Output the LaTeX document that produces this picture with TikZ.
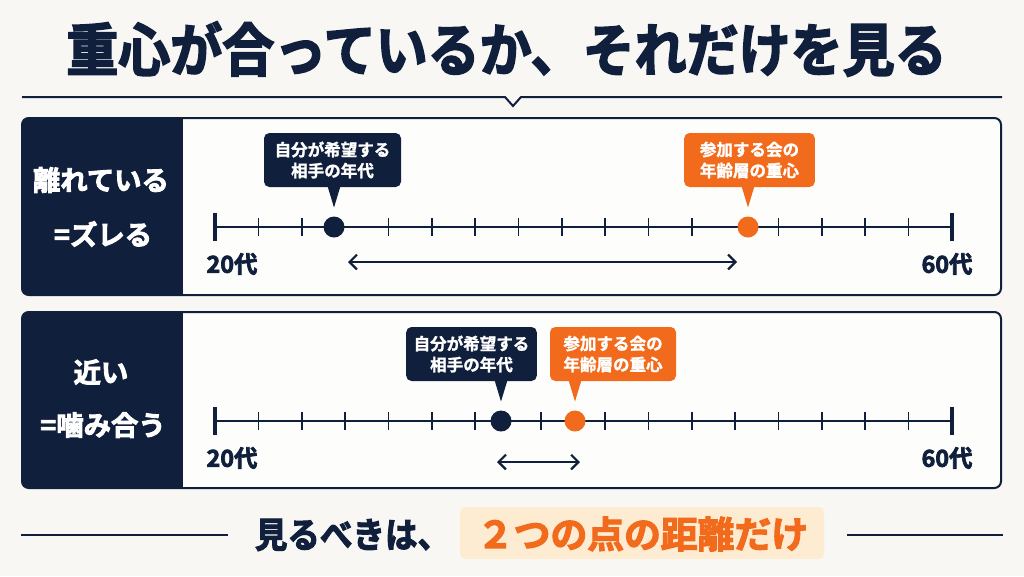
\documentclass[tikz,border=0pt]{standalone}
\usepackage{graphicx}
\usepackage{fontspec}
\setmainfont{Noto Sans CJK JP}
\newfontfamily\heavy{Noto Sans CJK JP}[UprightFont={* Bold},FakeBold=3]
\newfontfamily\semiheavy{Noto Sans CJK JP}[UprightFont={* Bold},FakeBold=1.5]
\usetikzlibrary{arrows.meta,calc}
\definecolor{navy}{HTML}{101F3C}
\definecolor{orng}{HTML}{F26A1B}
\definecolor{peach}{HTML}{FDEBD2}
\definecolor{bgc}{HTML}{F8F7F4}
\definecolor{panelbg}{HTML}{FDFDFC}
\begin{document}
\begin{tikzpicture}[x=0.75pt,y=-0.75pt,
 every node/.style={inner sep=0pt,outer sep=0pt},
 panelframe/.style={draw=navy,line width=1.5pt,rounded corners=5pt},
 sidetext/.style={text=white,font=\heavy\fontsize{20.5}{24}\selectfont},
 axisline/.style={draw=navy,line width=1.6pt},
 endtick/.style={draw=navy,line width=2.4pt},
 minortick/.style={draw=navy,line width=1.2pt},
 dotnode/.style={circle,minimum size=15.75pt},
 callbox/.style={rounded corners=4pt,minimum width=98pt,minimum height=40.5pt,align=center,text=white,font=\semiheavy\fontsize{12.4}{15.75}\selectfont},
 agelabel/.style={text=navy,font=\heavy\fontsize{17.5}{20}\selectfont},
 distarrow/.style={draw=navy,line width=1.7pt,{Straight Barb[length=5.5pt,width=11pt]}-{Straight Barb[length=5.5pt,width=11pt]}},
 ruleline/.style={draw=navy,line width=1.9pt}
]
\useasboundingbox (0,0) rectangle (1024,576);
\fill[bgc] (0,0) rectangle (1024,576);

% title
\node[text=navy,font=\heavy\fontsize{39}{44}\selectfont] (title) at (506.5,49) {\scalebox{1}[1.1]{重心が合っているか、それだけを見る}};
\draw[navy,line width=1.5pt] (22,97) -- (505,97) -- (513,106) -- (521,97) -- (1002,97);

% ---------- panel 1 ----------
\fill[panelbg,rounded corners=5pt] (22,118) rectangle (1001,295);
\begin{scope}
\clip[rounded corners=5pt] (22,118) rectangle (1001,295);
\fill[navy] (22,118) rectangle (183,295);
\end{scope}
\draw[panelframe] (22,118) rectangle (1001,295);
\node[sidetext] (s1a) at (101,180) {離れている};
\node[sidetext] (s1b) at (103,234) {=ズレる};

\draw[axisline] (215,227) -- (952,227);
\draw[endtick] (215,213) -- (215,241);
\draw[endtick] (952,213) -- (952,241);
\foreach \k in {1,2,4,5,6,7,8,9,10,11,13,14,15,16}
  \draw[minortick] ({215+43.35*\k},218) -- ({215+43.35*\k},236);
\node[dotnode,fill=navy] (d1) at (334,227) {};
\node[dotnode,fill=orng] (o1) at (748,227) {};

\node[callbox,fill=navy,minimum width=102.75pt] (c1) at (332.5,160) {自分が希望する\\相手の年代};
\fill[navy] ($(d1 |- c1.south)+(-6.5,-1)$) -- ($(d1.north)+(0,-9)$) -- ($(d1 |- c1.south)+(6.5,-1)$) -- cycle;
\node[callbox,fill=orng] (k1) at (749.5,160) {参加する会の\\年齢層の重心};
\fill[orng] ($(o1 |- k1.south)+(-6.5,-1)$) -- ($(o1.north)+(0,-9)$) -- ($(o1 |- k1.south)+(6.5,-1)$) -- cycle;

\coordinate (a1l) at (348,262);
\coordinate (a1r) at (737,262);
\draw[distarrow] (a1l) -- (a1r);
\node[agelabel] (lo1) at (232,264) {20代};
\node[agelabel] (hi1) at (947,264) {60代};

% ---------- panel 2 ----------
\fill[panelbg,rounded corners=5pt] (22,312) rectangle (1001,488);
\begin{scope}
\clip[rounded corners=5pt] (22,312) rectangle (1001,488);
\fill[navy] (22,312) rectangle (183,488);
\end{scope}
\draw[panelframe] (22,312) rectangle (1001,488);
\node[sidetext] (s2a) at (101,372) {近い};
\node[sidetext] (s2b) at (103,425) {=噛み合う};

\draw[axisline] (215,421) -- (952,421);
\draw[endtick] (215,407) -- (215,435);
\draw[endtick] (952,407) -- (952,435);
\foreach \x in {258.35,301.7,345.05,388.4,431.75,475.1,541,605.15,648.5,691.85,735.2,778.55,821.9,865.25,908.6}
  \draw[minortick] (\x,412) -- (\x,430);
\node[dotnode,fill=navy] (d2) at (501,421) {};
\node[dotnode,fill=orng] (o2) at (575,421) {};

\node[callbox,fill=navy] (c2) at (471.5,354) {自分が希望する\\相手の年代};
\fill[navy] ($(d2 |- c2.south)+(-6.5,-1)$) -- ($(d2.north)+(0,-9)$) -- ($(d2 |- c2.south)+(6.5,-1)$) -- cycle;
\node[callbox,fill=orng,minimum width=94.5pt] (k2) at (613,354) {参加する会の\\年齢層の重心};
\fill[orng] ($(o2 |- k2.south)+(-6.5,-1)$) -- ($(o2.north)+(0,-9)$) -- ($(o2 |- k2.south)+(6.5,-1)$) -- cycle;

\coordinate (a2l) at (497,462);
\coordinate (a2r) at (580,462);
\draw[distarrow] (a2l) -- (a2r);
\node[agelabel] (lo2) at (232,458) {20代};
\node[agelabel] (hi2) at (947,458) {60代};

% ---------- bottom ----------
\coordinate (bl1) at (21,535);
\coordinate (bl2) at (228,535);
\coordinate (br1) at (847,535);
\coordinate (br2) at (1003,535);
\draw[ruleline] (bl1) -- (bl2);
\draw[ruleline] (br1) -- (br2);
\node[text=navy,font=\heavy\fontsize{24.4}{28}\selectfont] (see) at (352.5,535) {\scalebox{1}[1.08]{見るべきは、}};
\node[fill=peach,rounded corners=4pt,minimum width=273pt,minimum height=39pt] (hl) at (642,533) {};
\node[text=orng,font=\heavy\fontsize{27.6}{30}\selectfont] (key) at (642.5,534) {２つの点の距離だけ};
\end{tikzpicture}
\end{document}
